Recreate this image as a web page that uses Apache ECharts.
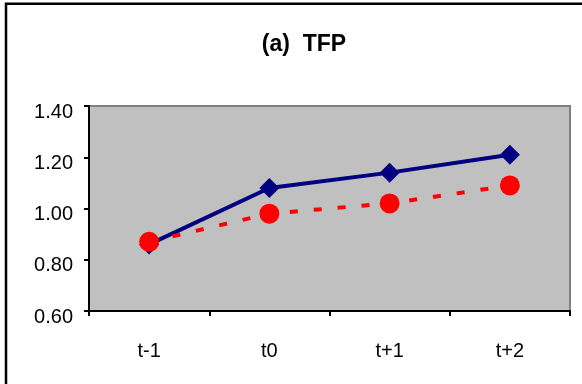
<!DOCTYPE html>
<html><head><meta charset="utf-8">
<script src="https://cdn.jsdelivr.net/npm/echarts@6/dist/echarts.min.js"></script>
<style>html,body{margin:0;padding:0;background:#fff}#c{width:582px;height:384px}</style>
</head><body><div id="c"></div>
<script>
var categories = ['t-1', 't0', 't+1', 't+2'];
var seriesA = [0.86, 1.08, 1.14, 1.21];
var seriesB = [0.87, 0.98, 1.02, 1.09];
var yTicks = [0.6, 0.8, 1.0, 1.2, 1.4];
var titleText = '(a)  TFP';

var chart = echarts.init(document.getElementById('c'), null, {renderer: 'canvas'});
chart.setOption({
  animation: false,
  backgroundColor: '#fff',
  title: {
    text: titleText, left: 299, top: 28, textAlign: 'center',
    textStyle: {fontFamily: 'Liberation Sans, Arial', fontWeight: 'bold', fontSize: 23, color: '#000'}
  },
  graphic: [{
    type: 'rect', shape: {x: 6, y: 3.7, width: 640, height: 420},
    style: {fill: 'none', stroke: '#000', lineWidth: 2.5}, z: 100
  }],
  grid: {left: 89, right: 12, top: 106, bottom: 73, show: true,
    backgroundColor: '#C0C0C0', borderColor: '#808080', borderWidth: 2},
  xAxis: {
    type: 'category', data: categories, boundaryGap: true,
    axisLine: {lineStyle: {color: '#000', width: 2}},
    axisTick: {show: true, length: 5, lineStyle: {color: '#000', width: 2}},
    axisLabel: {margin: 30, fontFamily: 'Liberation Sans, Arial', fontSize: 20, color: '#000'},
    splitLine: {show: false}
  },
  yAxis: {
    type: 'value', min: yTicks[0], max: yTicks[yTicks.length - 1], interval: 0.2,
    axisLine: {show: true, lineStyle: {color: '#000', width: 2}},
    axisTick: {show: true, length: 5, lineStyle: {color: '#000', width: 2}},
    axisLabel: {margin: 16, fontFamily: 'Liberation Sans, Arial', fontSize: 20, color: '#000',
      verticalAlign: 'top', lineHeight: 12,
      formatter: function (v) { return v.toFixed(2); }},
    splitLine: {show: false}
  },
  series: [{
    type: 'line', data: seriesA, symbol: 'diamond', symbolSize: 20,
    lineStyle: {color: '#000080', width: 4},
    itemStyle: {color: '#000080'}, z: 2
  }, {
    type: 'line', data: seriesB, symbol: 'circle', symbolSize: 20,
    lineStyle: {color: '#FF0000', width: 4, type: [8, 16]},
    itemStyle: {color: '#FF0000'}, z: 3
  }]
});
</script></body></html>
